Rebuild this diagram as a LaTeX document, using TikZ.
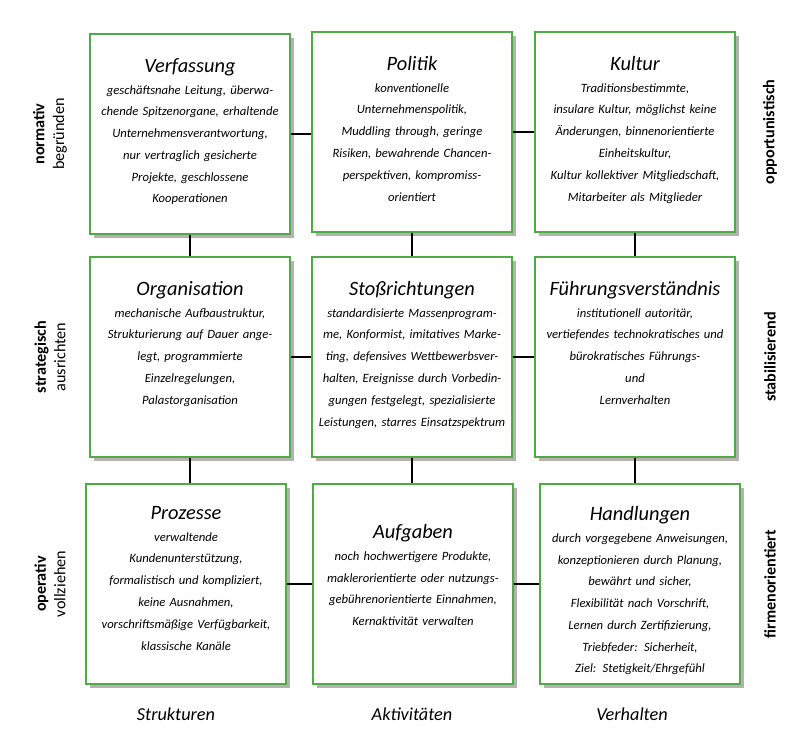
\documentclass[tikz,border=0pt]{standalone}
\usepackage{fontspec}
\setmainfont{Carlito}
\usetikzlibrary{positioning, shadows}
\definecolor{boxgreen}{RGB}{80,170,70}
\newcommand{\boxtitle}[1]{{\fontsize{14.5}{19}\selectfont #1}}
\tikzset{
  box/.style={draw=boxgreen, line width=1pt, fill=white, minimum size=5cm,
    drop shadow={shadow xshift=3pt, shadow yshift=-3pt, fill=black!60}},
  txt/.style={anchor=north, text width=4.9cm, align=center,
    font=\fontsize{9}{15.5}\selectfont\itshape},
  side/.style={rotate=90, align=center, font=\fontsize{11.5}{14}\selectfont},
  bottom/.style={font=\fontsize{13}{15}\selectfont\itshape},
  link/.style={line width=0.8pt}
}
\begin{document}
\begin{tikzpicture}
\useasboundingbox (0,0) rectangle (20,-18.625);

% boxes
\node[box] (b11) at (4.75,-3.35) {};
\node[box] (b12) at (10.3,-3.3) {};
\node[box] (b13) at (15.875,-3.3) {};
\node[box] (b21) at (4.75,-8.925) {};
\node[box] (b22) at (10.3,-8.925) {};
\node[box] (b23) at (15.875,-8.925) {};
\node[box] (b31) at (4.65,-14.6) {};
\node[box] (b32) at (10.325,-14.6) {};
\node[box] (b33) at (16.0,-14.6) {};

% connectors
\foreach \r in {1,2,3}{
  \draw[link] (b\r1.east) -- (b\r1.east -| b\r2.west);
  \draw[link] (b\r2.east) -- (b\r2.east -| b\r3.west);
}
\foreach \c in {1,2,3}{
  \draw[link] (b1\c.south) -- (b1\c.south |- b2\c.north);
  \draw[link] (b2\c.south) -- (b2\c.south |- b3\c.north);
}

% texts
\node[txt] (t11) at ([yshift=-0.5cm]b11.north) {\boxtitle{Verfassung}\\
  geschäftsnahe Leitung, überwa-\\chende Spitzenorgane, erhaltende\\Unternehmensverantwortung,\\nur vertraglich gesicherte\\Projekte, geschlossene\\Kooperationen};
\node[txt] (t12) at ([yshift=-0.5cm]b12.north) {\boxtitle{Politik}\\
  konventionelle\\Unternehmenspolitik,\\Muddling through, geringe\\Risiken, bewahrende Chancen-\\perspektiven, kompromiss-\\orientiert};
\node[txt] (t13) at ([yshift=-0.5cm]b13.north) {\boxtitle{Kultur}\\
  Traditionsbestimmte,\\insulare Kultur, möglichst keine\\Änderungen, binnenorientierte\\Einheitskultur,\\Kultur kollektiver Mitgliedschaft,\\Mitarbeiter als Mitglieder};
\node[txt] (t21) at ([yshift=-0.5cm]b21.north) {\boxtitle{Organisation}\\
  mechanische Aufbaustruktur,\\Strukturierung auf Dauer ange-\\legt, programmierte\\Einzelregelungen,\\Palastorganisation};
\node[txt] (t22) at ([yshift=-0.5cm]b22.north) {\boxtitle{Stoßrichtungen}\\
  standardisierte Massenprogram-\\me, Konformist, imitatives Marke-\\ting, defensives Wettbewerbsver-\\halten, Ereignisse durch Vorbedin-\\gungen festgelegt, spezialisierte\\Leistungen, starres Einsatzspektrum};
\node[txt] (t23) at ([yshift=-0.5cm]b23.north) {\boxtitle{Führungsverständnis}\\
  institutionell autoritär,\\vertiefendes technokratisches und\\bürokratisches Führungs-\\und\\Lernverhalten};
\node[txt] (t31) at ([yshift=-0.45cm]b31.north) {\boxtitle{Prozesse}\\
  verwaltende\\Kundenunterstützung,\\formalistisch und kompliziert,\\keine Ausnahmen,\\vorschriftsmäßige Verfügbarkeit,\\klassische Kanäle};
\node[txt] (t32) at ([yshift=-0.9cm]b32.north) {\boxtitle{Aufgaben}\\
  noch hochwertigere Produkte,\\maklerorientierte oder nutzungs-\\gebührenorientierte Einnahmen,\\Kernaktivität verwalten};
\node[txt] (t33) at ([yshift=-0.45cm]b33.north) {\boxtitle{Handlungen}\\
  durch vorgegebene Anweisungen,\\konzeptionieren durch Planung,\\bewährt und sicher,\\Flexibilität nach Vorschrift,\\Lernen durch Zertifizierung,\\Triebfeder: Sicherheit,\\Ziel: Stetigkeit/Ehrgefühl};

% side labels
\node[side] (l1) at (1.25,-3.35) {\textbf{normativ}\\begründen};
\node[side] (l2) at (1.25,-8.925) {\textbf{strategisch}\\ausrichten};
\node[side] (l3) at (1.25,-14.6) {\textbf{operativ}\\vollziehen};
\node[side, font=\fontsize{11.5}{14}\selectfont\bfseries] (r1) at (19.25,-3.3) {opportunistisch};
\node[side, font=\fontsize{11.5}{14}\selectfont\bfseries] (r2) at (19.25,-8.925) {stabilisierend};
\node[side, font=\fontsize{11.5}{14}\selectfont\bfseries] (r3) at (19.25,-14.6) {firmenorientiert};

% bottom labels
\node[bottom] (c1) at (4.4,-17.85) {Strukturen};
\node[bottom] (c2) at (10.3,-17.85) {Aktivitäten};
\node[bottom] (c3) at (15.8,-17.85) {Verhalten};
\end{tikzpicture}
\end{document}
